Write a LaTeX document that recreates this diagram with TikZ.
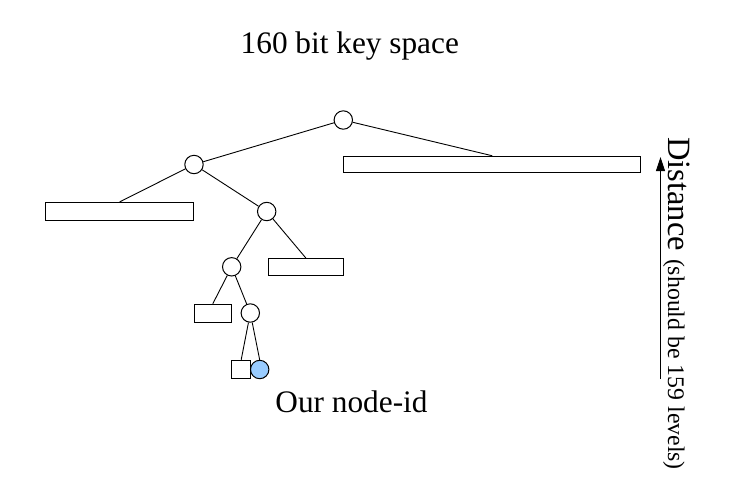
\documentclass[tikz,border=0pt]{standalone}
\usepackage{fontspec}
\setmainfont{Liberation Serif}
\usetikzlibrary{arrows.meta}
\definecolor{meblue}{RGB}{153,204,255}
\begin{document}
\begin{tikzpicture}[x=1pt,y=-1pt,
  knot/.style={circle, draw, line width=1pt, minimum size=18.4pt, inner sep=0pt, fill=white},
  bucket/.style={draw, line width=1pt, inner sep=0pt, fill=white},
  link/.style={line width=0.9pt},
  bigtext/.style={font=\fontsize{31.3}{36}\selectfont, inner sep=0pt}]
\useasboundingbox (0,0) rectangle (747,483);
% tree nodes
\node[knot] (root) at (343.3,120) {};
\node[knot] (a) at (194,164.5) {};
\node[bucket, minimum width=297pt, minimum height=16.5pt] (ra) at (492.2,164.5) {};
\node[bucket, minimum width=148.5pt, minimum height=18pt] (rb) at (119.5,211.5) {};
\node[knot] (b) at (266.7,211.5) {};
\node[bucket, minimum width=74.5pt, minimum height=17.5pt] (rc) at (305.8,267.2) {};
\node[knot] (c) at (231.7,266.8) {};
\node[bucket, minimum width=37pt, minimum height=18.5pt] (rd) at (212.8,313.5) {};
\node[knot] (d) at (250.3,313) {};
\node[bucket, minimum width=18.5pt, minimum height=18.5pt] (re) at (241.2,369.5) {};
\node[knot, fill=meblue] (me) at (259.7,369.5) {};
% edges
\draw[link] (root) -- (ra.north);
\draw[link] (root) -- (a);
\draw[link] (a) -- (rb.north);
\draw[link] (a) -- (b);
\draw[link] (b) -- (rc.north);
\draw[link] (b) -- (c);
\draw[link] (c) -- (rd.north);
\draw[link] (c) -- (d);
\draw[link] (d) -- (re.north);
\draw[link] (d) -- (me.north);
% texts
\node[bigtext, anchor=base] (title) at (349.8,53.3) {160 bit key space};
\node[bigtext, anchor=base] (our) at (351.5,412.7) {Our node-id};
\node[rotate=-90, anchor=base west, inner sep=0pt] (dist) at (668,137)
  {\fontsize{32.5}{36}\selectfont Distance \fontsize{23.8}{28}\selectfont(should be 159 levels)};
% distance arrow
\coordinate (abot) at (660.5,379);
\coordinate (atop) at (660.5,157);
\draw[line width=0.9pt, -{Triangle[length=14pt,width=9pt]}] (abot) -- (atop);
\end{tikzpicture}
\end{document}
